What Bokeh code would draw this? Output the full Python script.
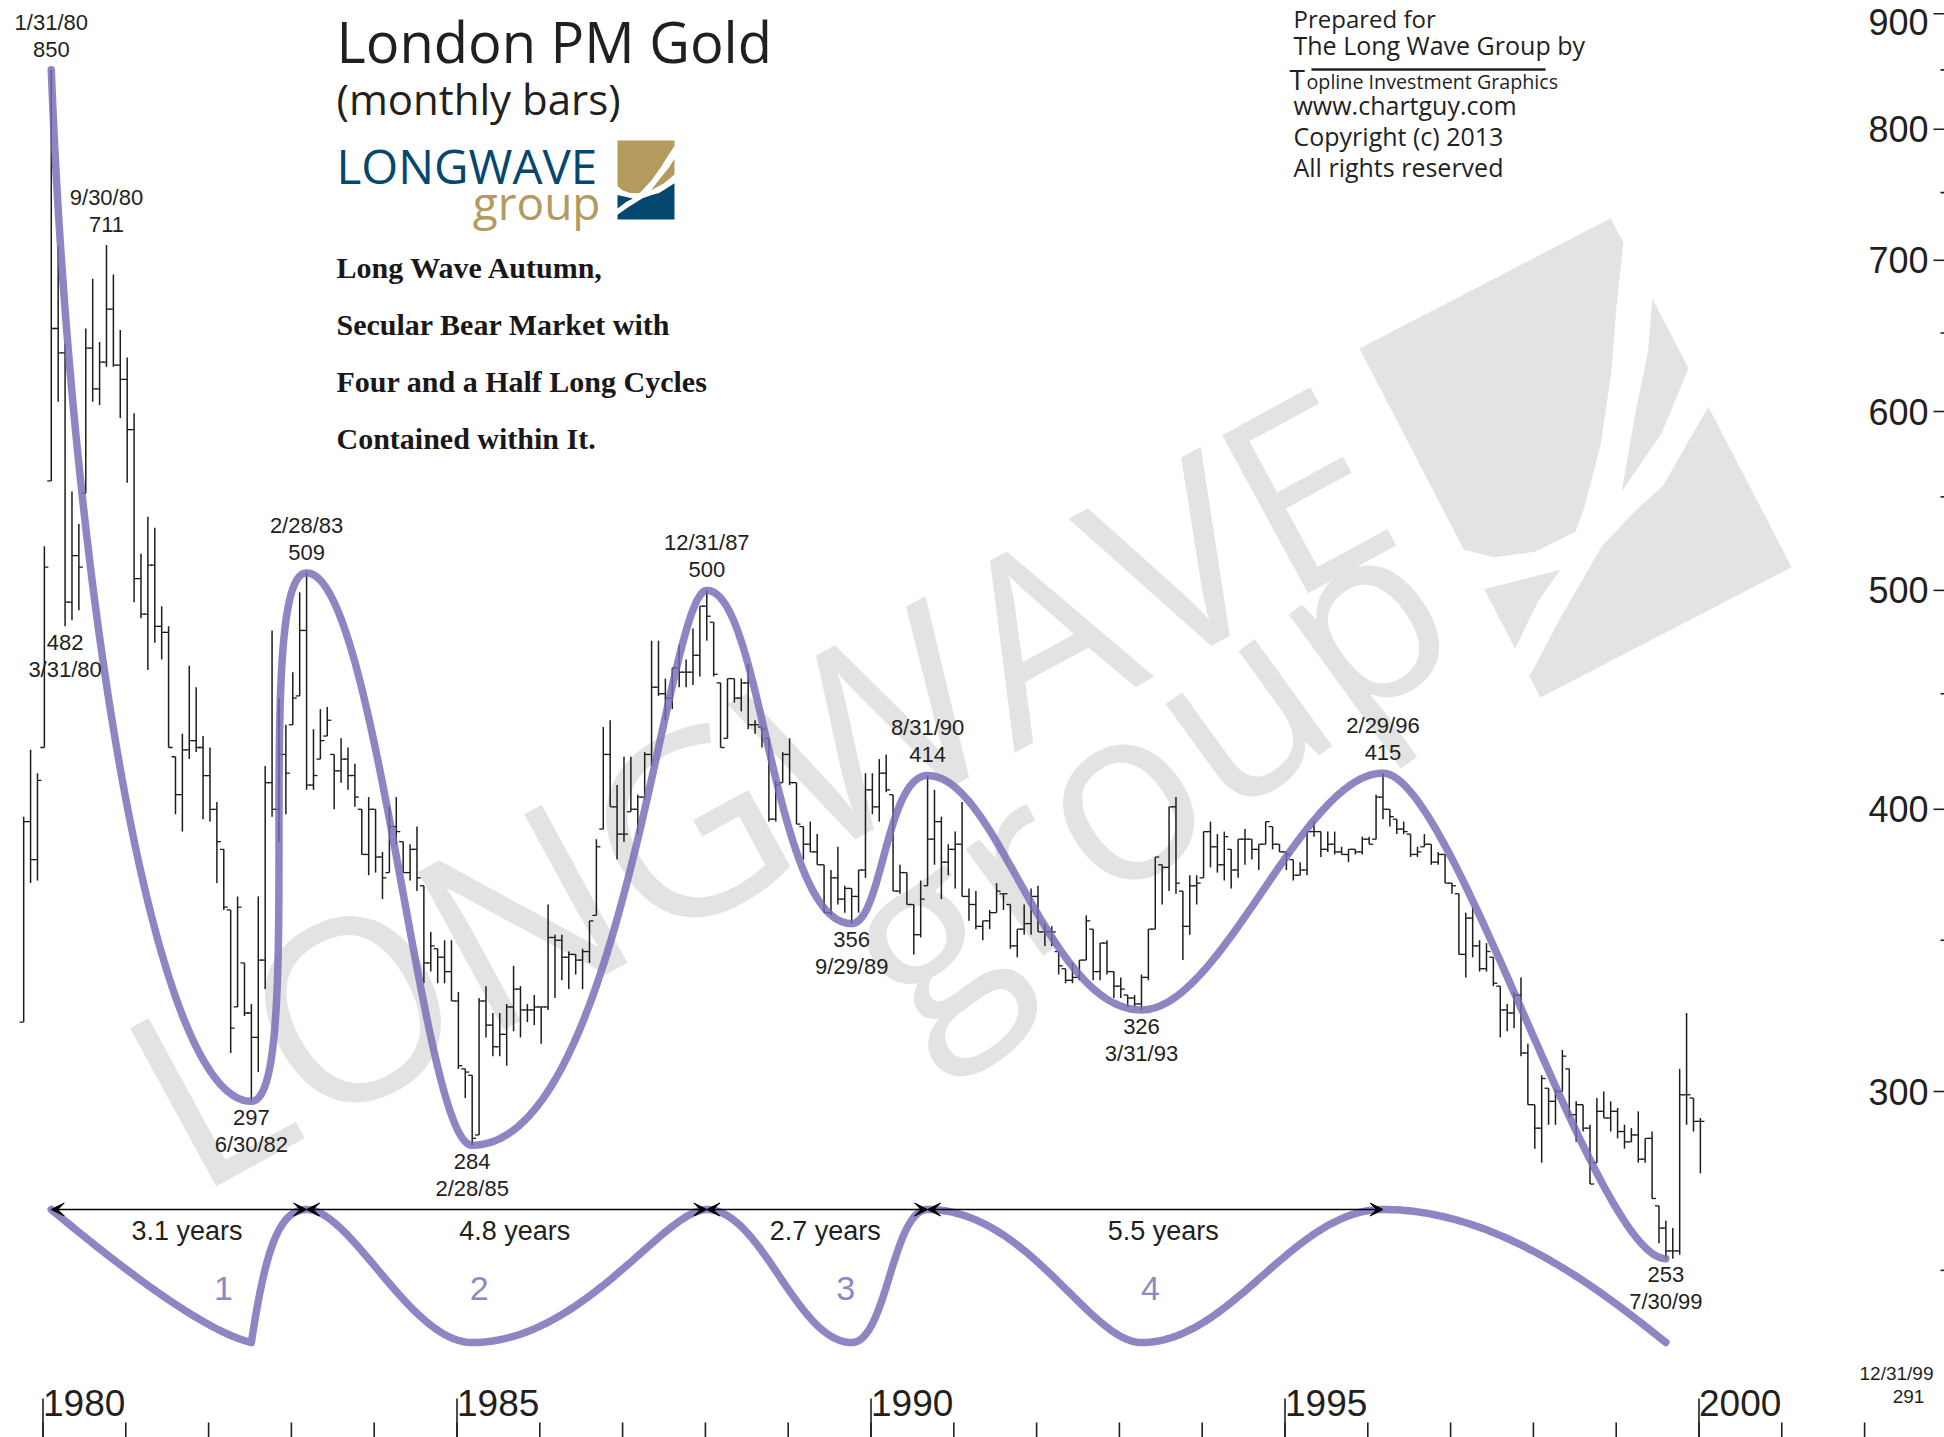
import math
import numpy as np
from bokeh.plotting import figure
from bokeh.models import Range1d, Arrow, VeeHead
from bokeh.core.properties import value
from bokeh.embed import file_html
from bokeh.resources import INLINE

# ------------------------------------------------------------------ data
FIRST_YEAR, FIRST_MONTH = 1979, 9          # first monthly bar: Sep 1979

high = [
    397, 425, 415, 523,                                              # 1979 Sep-Dec
    850, 710, 643, 553, 535, 653, 687, 644, 711, 690, 652, 634,      # 1980
    599, 519, 539, 533, 492, 482, 422, 432, 463, 453, 431, 426,      # 1981
    403, 384, 361, 366, 342, 328, 366, 418, 480, 448, 436, 460,      # 1982
    499, 509, 434, 443, 444, 423, 430, 426, 419, 400, 405, 400,      # 1983
    383, 401, 405, 387, 386, 393, 370, 353, 347, 350, 350, 332,      # 1984
    307, 305, 330, 334, 325, 325, 328, 341, 334, 328, 331, 327,      # 1985
    363, 352, 352, 346, 345, 347, 357, 388, 435, 438, 410, 422,      # 1986
    422, 406, 424, 475, 475, 457, 462, 473, 466, 481, 492, 500,      # 1987
    484, 455, 457, 457, 457, 464, 438, 435, 430, 412, 424, 430,      # 1988
    411, 393, 395, 390, 378, 376, 385, 370, 369, 376, 415, 415,      # 1989
    421, 423, 406, 378, 375, 363, 372, 414, 408, 397, 386, 391,      # 1990
    403, 369, 368, 357, 361, 371, 367, 363, 354, 363, 369, 370,      # 1991
    356, 355, 346, 340, 342, 343, 359, 354, 349, 350, 339, 337,      # 1992
    331, 331, 338, 354, 381, 378, 401, 405, 368, 374, 374, 391,      # 1993
    395, 390, 391, 384, 388, 392, 388, 386, 395, 393, 386, 383,      # 1994
    380, 379, 391, 395, 391, 391, 391, 385, 384, 384, 389, 389,      # 1995
    406, 415, 400, 396, 395, 390, 385, 390, 386, 383, 382, 371,      # 1996
    367, 360, 362, 350, 349, 344, 334, 328, 332, 337, 315, 296,      # 1997
    305, 301, 301, 313, 307, 297, 296, 290, 298, 300, 297, 295,      # 1998
    290, 289, 294, 286, 288, 267, 263, 261, 307, 325, 298, 292,      # 1999
]
low = [
    322, 371, 372, 426,
    559, 606, 482, 485, 490, 552, 606, 604, 628, 628, 596, 558,
    494, 486, 461, 474, 466, 426, 398, 391, 421, 424, 396, 395,
    371, 361, 312, 327, 324, 297, 306, 333, 397, 387, 398, 436,
    449, 408, 408, 421, 431, 400, 411, 408, 401, 382, 374, 375,
    365, 375, 386, 375, 372, 368, 335, 339, 335, 335, 329, 307,
    298, 284, 287, 317, 311, 311, 308, 319, 317, 322, 321, 315,
    326, 330, 336, 333, 338, 333, 342, 359, 392, 401, 380, 387,
    399, 390, 404, 418, 449, 438, 443, 453, 453, 454, 458, 475,
    458, 426, 430, 446, 442, 434, 432, 426, 395, 395, 411, 410,
    394, 380, 383, 378, 360, 359, 363, 360, 356, 360, 373, 398,
    395, 407, 368, 367, 363, 345, 351, 370, 378, 365, 374, 369,
    366, 357, 354, 350, 354, 360, 361, 347, 344, 352, 352, 353,
    348, 348, 338, 335, 335, 336, 343, 336, 336, 338, 330, 330,
    327, 327, 326, 336, 354, 363, 368, 367, 343, 352, 363, 373,
    377, 375, 372, 369, 373, 378, 380, 376, 386, 384, 383, 376,
    372, 374, 374, 389, 381, 383, 382, 382, 379, 382, 382, 386,
    388, 396, 393, 390, 390, 381, 381, 385, 378, 378, 371, 367,
    345, 337, 344, 339, 339, 334, 317, 319, 320, 311, 296, 283,
    279, 290, 290, 300, 292, 285, 288, 273, 279, 292, 288, 286,
    283, 285, 279, 279, 269, 257, 253, 253, 254, 290, 288, 276,
]
close = [
    395, 380, 412, 512,
    653, 637, 494, 518, 512, 640, 614, 631, 666, 629, 620, 589,
    506, 488, 513, 482, 479, 426, 406, 425, 429, 426, 414, 400,
    387, 362, 320, 362, 325, 317, 343, 411, 400, 423, 415, 448,
    480, 410, 414, 429, 438, 416, 421, 414, 405, 382, 400, 381,
    373, 393, 391, 375, 384, 373, 342, 348, 344, 339, 329, 308,
    306, 286, 329, 321, 314, 318, 327, 333, 326, 326, 327, 327,
    351, 350, 344, 345, 343, 346, 357, 385, 423, 401, 390, 390,
    400, 405, 423, 453, 450, 448, 462, 460, 460, 468, 492, 487,
    459, 426, 457, 448, 455, 436, 436, 434, 396, 410, 423, 411,
    394, 386, 383, 378, 360, 373, 365, 369, 366, 376, 408, 401,
    415, 408, 368, 375, 363, 352, 365, 388, 395, 379, 384, 386,
    366, 363, 355, 357, 360, 368, 367, 348, 354, 356, 366, 353,
    353, 353, 341, 336, 337, 343, 357, 339, 349, 339, 334, 333,
    330, 328, 337, 354, 381, 377, 401, 371, 355, 370, 371, 391,
    385, 378, 389, 376, 388, 388, 384, 386, 395, 386, 383, 382,
    374, 376, 391, 391, 384, 386, 383, 382, 384, 383, 388, 386,
    405, 400, 397, 392, 391, 382, 383, 386, 379, 382, 371, 370,
    345, 358, 348, 340, 346, 335, 326, 325, 331, 312, 296, 289,
    304, 297, 300, 311, 293, 296, 289, 273, 294, 292, 294, 288,
    285, 287, 280, 286, 269, 261, 255, 255, 299, 299, 291, 291,
]

# turning points joined by the long-cycle curve
turn_dates = ["1/31/80", "6/30/82", "2/28/83", "2/28/85", "12/31/87",
              "9/29/89", "8/31/90", "3/31/93", "2/29/96", "7/30/99"]
turn_values = [850, 297, 509, 284, 500, 356, 414, 326, 415, 253]
turn_kinds = ["peak", "trough", "peak", "trough", "peak",
              "trough", "peak", "trough", "peak", "trough"]

# other annotated bars
note_dates = ["9/30/80", "3/31/80"]
note_values = [711, 482]
note_kinds = ["peak", "trough"]

cycle_numbers = ["1", "2", "3", "4"]
last_date, last_value = "12/31/99", 291

y_major_ticks = [300, 400, 500, 600, 700, 800, 900]
y_minor_ticks = [250, 350, 450, 550, 650, 750, 850]
x_major_years = [1980, 1985, 1990, 1995, 2000]
x_minor_years = list(range(1980, 2003))

# ------------------------------------------------------------------ geometry helpers
X0_PX, PX_PER_YEAR = 42.5, 82.8        # pixel scale of the time axis
Y300_PX, PX_PER_LN = 1091.0, 981.0     # pixel scale of the log price axis
W, H = 1944, 1437


def X(px):
    return 1980 + (px - X0_PX) / PX_PER_YEAR


def Y(py):
    return 300 * math.exp((Y300_PX - py) / PX_PER_LN)


def tx(t):
    return X0_PX + (t - 1980) * PX_PER_YEAR


def vy(v):
    return Y300_PX - PX_PER_LN * math.log(v / 300.0)


def date_t(s):
    m, d, y = s.split("/")
    return 1900 + int(y) + (int(m) - 1) / 12 + 0.1


def bezier(p0, p1, p2, p3, n=80):
    t = np.linspace(0, 1, n)
    a, b, c, d = (1 - t) ** 3, 3 * (1 - t) ** 2 * t, 3 * (1 - t) * t ** 2, t ** 3
    xs = a * p0[0] + b * p1[0] + c * p2[0] + d * p3[0]
    ys = a * p0[1] + b * p1[1] + c * p2[1] + d * p3[1]
    return xs, ys


INK = "#231f20"
PURPLE = "#736cb6"
PURPLE_LIGHT = "#8d88c6"
WATER = "#e3e3e3"
GOLD = "#b39b5f"
BLUE = "#05476e"
SANS = "Liberation Sans"
HUMAN = "Open Sans"
MID = 0.35          # cap-centre height above the baseline, in em

p = figure(width=W, height=H,
           x_range=Range1d(X(0), X(W)), y_range=Range1d(Y(H), Y(0)),
           y_axis_type="log", x_axis_location=None, y_axis_location=None,
           output_backend="svg", toolbar_location=None, min_border=0)
p.grid.visible = False
p.outline_line_color = None
p.background_fill_color = "white"
p.border_fill_color = "white"


def put_text(px, base_py, s, size, font=SANS, color=INK, align="left",
             style="normal"):
    """text whose alphabetic baseline sits at base_py (pixels from the top)"""
    p.text(x=[X(px)], y=[Y(base_py - MID * size)], text=[s], text_font=value(font),
           text_font_size=f"{size}px", text_color=color, text_align=align,
           text_baseline="middle", text_font_style=style)


def put_rotated(cx, cy, s, size, angle_deg, font=HUMAN, color=WATER):
    """text centred on (cx, cy) and turned counter-clockwise"""
    p.text(x=[X(cx)], y=[Y(cy)], text=[s], text_font=value(font),
           text_font_size=f"{size}px", text_color=color, text_align="center",
           text_baseline="middle", angle=math.radians(angle_deg))


# ------------------------------------------------------------------ logo shapes (unit square)
LOGO_SHAPES = [
    ([(0, 0), (1, 0), (1, 0.07), (0.88, 0.2), (0.75, 0.35), (0.6, 0.5), (0.45, 0.62),
      (0.38, 0.667), (0.22, 0.665), (0.084, 0.63), (0, 0.577)], "top"),
    ([(1, 0.23), (1, 0.43), (0.81, 0.545), (0.59, 0.63), (0.77, 0.46), (0.9, 0.345)], "top"),
    ([(1, 0.54), (1, 1), (0, 1), (0, 0.94), (0.2, 0.84), (0.44, 0.73), (0.6, 0.69),
      (0.73, 0.665), (0.87, 0.6)], "bottom"),
    ([(0, 0.69), (0.27, 0.735), (0.15, 0.78), (0, 0.86)], "bottom"),
]


def draw_logo(origin, ang_deg, w, h, colors):
    a = math.radians(ang_deg)
    eu = (math.cos(a), -math.sin(a))
    ev = (math.sin(a), math.cos(a))
    for pts, part in LOGO_SHAPES:
        xs = [X(origin[0] + u * w * eu[0] + v * h * ev[0]) for u, v in pts]
        ys = [Y(origin[1] + u * w * eu[1] + v * h * ev[1]) for u, v in pts]
        p.patch(xs, ys, fill_color=colors[part], line_color=None)


# ------------------------------------------------------------------ watermark
draw_logo((1359, 348), 27.4, 283, 393, {"top": WATER, "bottom": WATER})
put_rotated(755, 782, "LONGWAVE", 252, 28.5)
put_rotated(1138, 768, "group", 246, 36)

# ------------------------------------------------------------------ monthly bars
n = len(high)
t_bar = np.array([FIRST_YEAR + (FIRST_MONTH - 1) / 12 + 0.1 + i / 12 for i in range(n)])
hi = np.array(high, float)
lo = np.array(low, float)
cl = np.array(close, float)
op = np.clip(np.r_[lo[0], cl[:-1]], lo, hi)
tick = 4.0 / PX_PER_YEAR
p.segment(t_bar, lo, t_bar, hi, line_color="#1d1d1b", line_width=1.5)
p.segment(t_bar - tick, op, t_bar, op, line_color="#1d1d1b", line_width=1.3)
p.segment(t_bar, cl, t_bar + tick, cl, line_color="#1d1d1b", line_width=1.3)

# ------------------------------------------------------------------ long-cycle curve
# bezier handles per segment, in pixels: (dx0, dy0, dx1, dy1)
curve_handles = [(19, 493, -101, 0), (55, 0, -55, 0), (70, 0, -50, 0), (150, 0, -40, 0),
                 (55, 0, -78, 0), (30, 0, -41, 0), (70, 0, -94, 0), (80, 0, -80, 0),
                 (70, 0, -70, 0)]
turn_t = [date_t(d) for d in turn_dates]
turn_px = [(tx(t), vy(v)) for t, v in zip(turn_t, turn_values)]
cxs, cys = [], []
for i, (dx0, dy0, dx1, dy1) in enumerate(curve_handles):
    a, b = turn_px[i], turn_px[i + 1]
    xs, ys = bezier(a, (a[0] + dx0, a[1] + dy0), (b[0] + dx1, b[1] + dy1), b)
    if i:
        xs, ys = xs[1:], ys[1:]
    cxs += list(xs)
    cys += list(ys)
p.line([X(v) for v in cxs], [Y(v) for v in cys], line_color=PURPLE, line_width=7.5,
       line_alpha=0.82, line_join="round", line_cap="round")

# ------------------------------------------------------------------ turning-point labels
LABEL_OFF = {"peak": (-13, -40), "trough": (24, 51)}
LABEL_SIZE = 22
all_dates = turn_dates + note_dates
all_values = turn_values + note_values
all_kinds = turn_kinds + note_kinds
for d, v, k in zip(all_dates, all_values, all_kinds):
    t = date_t(d)
    off_v, off_d = LABEL_OFF[k]
    lift = MID * LABEL_SIZE
    p.text(x=[t, t], y=[Y(vy(v) + off_v - lift), Y(vy(v) + off_d - lift)], text=[str(v), d],
           text_font=value(SANS), text_font_size=f"{LABEL_SIZE}px", text_color=INK,
           text_align="center", text_baseline="middle")

# ------------------------------------------------------------------ cycle diagram
CYC_TOP, CYC_BOT = 1209, 1342
cyc_handles = [(59, 49, -51, -12), (14, -92, -28, 0), (45, 0, -62, 0), (110, 0, -43, 0),
               (55, 0, -55, 0), (35, 0, -35, 0), (100, 0, -52, 0), (90, 0, -90, 0),
               (115, 0, -65, -52)]
cyc_px = [(tx(t), CYC_TOP if k == "peak" else CYC_BOT) for t, k in zip(turn_t, turn_kinds)]
qx, qy = [], []
for i, (dx0, dy0, dx1, dy1) in enumerate(cyc_handles):
    a, b = cyc_px[i], cyc_px[i + 1]
    xs, ys = bezier(a, (a[0] + dx0, a[1] + dy0), (b[0] + dx1, b[1] + dy1), b)
    if i:
        xs, ys = xs[1:], ys[1:]
    qx += list(xs)
    qy += list(ys)
p.line([X(v) for v in qx], [Y(v) for v in qy], line_color=PURPLE, line_width=7.5,
       line_alpha=0.82, line_join="round", line_cap="round")

peak_t = [t for t, k in zip(turn_t, turn_kinds) if k == "peak"]
trough_t = [t for t, k in zip(turn_t, turn_kinds) if k == "trough"]
for a, b in zip(peak_t[:-1], peak_t[1:]):
    p.add_layout(Arrow(x_start=a, y_start=Y(CYC_TOP), x_end=b, y_end=Y(CYC_TOP),
                       line_color="black", line_width=1.5,
                       start=VeeHead(size=13, fill_color="black", line_color="black", line_width=1),
                       end=VeeHead(size=13, fill_color="black", line_color="black", line_width=1)))
    put_text(tx((a + b) / 2) + 8, 1240, f"{b - a:.1f} years", 27, align="center")

num_dx = [-28, 7, -6, 9]
for num, t, dx in zip(cycle_numbers, trough_t, num_dx):
    put_text(tx(t) + dx, 1300, num, 34, color=PURPLE_LIGHT, align="center")

# ------------------------------------------------------------------ axes (drawn in place)
ny = len(y_major_ticks)
p.segment([X(1933)] * ny, y_major_ticks, [X(1944)] * ny, y_major_ticks, line_color=INK, line_width=1.6)
p.segment([X(1940)] * len(y_minor_ticks), y_minor_ticks, [X(1944)] * len(y_minor_ticks),
          y_minor_ticks, line_color=INK, line_width=1.6)
label_y = [Y(max(vy(v), 21)) for v in y_major_ticks]
p.text(x=[X(1928)] * ny, y=label_y, text=[str(v) for v in y_major_ticks],
       text_font=value(SANS), text_font_size="36px", text_color=INK,
       text_align="right", text_baseline="middle")

p.segment(x_minor_years, [Y(H)] * len(x_minor_years), x_minor_years,
          [Y(1422)] * len(x_minor_years), line_color=INK, line_width=1.6)
p.segment(x_major_years, [Y(H)] * len(x_major_years), x_major_years,
          [Y(1398)] * len(x_major_years), line_color=INK, line_width=1.6)
p.text(x=x_major_years, y=[Y(1415 - MID * 37)] * len(x_major_years),
       text=[str(v) for v in x_major_years],
       text_font=value(SANS), text_font_size="37px", text_color=INK,
       text_align="left", text_baseline="middle")

put_text(1896, 1380, last_date, 19, align="center")
put_text(1908, 1403, str(last_value), 19, align="center")

# ------------------------------------------------------------------ titles
put_text(336, 60.5, "London PM Gold", 56, font=HUMAN)
put_text(336, 113, "(monthly bars)", 42, font=HUMAN)
put_text(336, 182, "LONGWAVE", 47.5, font=HUMAN, color=BLUE)
put_text(600, 218, "group", 46, font=HUMAN, color=GOLD, align="right")
draw_logo((617, 140), 0, 57, 79, {"top": GOLD, "bottom": BLUE})

heading = ["Long Wave Autumn,", "Secular Bear Market with",
           "Four and a Half Long Cycles", "Contained within It."]
for i, line in enumerate(heading):
    put_text(336, 277 + 57.3 * i, line, 30, font="Liberation Serif", style="bold", color="#1a1718")

put_text(1293, 26, "Prepared for", 24, font=HUMAN)
put_text(1293, 53, "The Long Wave Group by", 25, font=HUMAN)
put_text(1289, 88, "T", 28, font=HUMAN)
put_text(1306, 88, "opline Investment Graphics", 19.7, font=HUMAN)
p.segment([X(1311)], [Y(69)], [X(1545)], [Y(69)], line_color=INK, line_width=2.6)
put_text(1293, 113, "www.chartguy.com", 25, font=HUMAN)
put_text(1293, 144, "Copyright (c) 2013", 25, font=HUMAN)
put_text(1293, 175, "All rights reserved", 25, font=HUMAN)

open("out.html", "w").write(file_html(p, INLINE))
